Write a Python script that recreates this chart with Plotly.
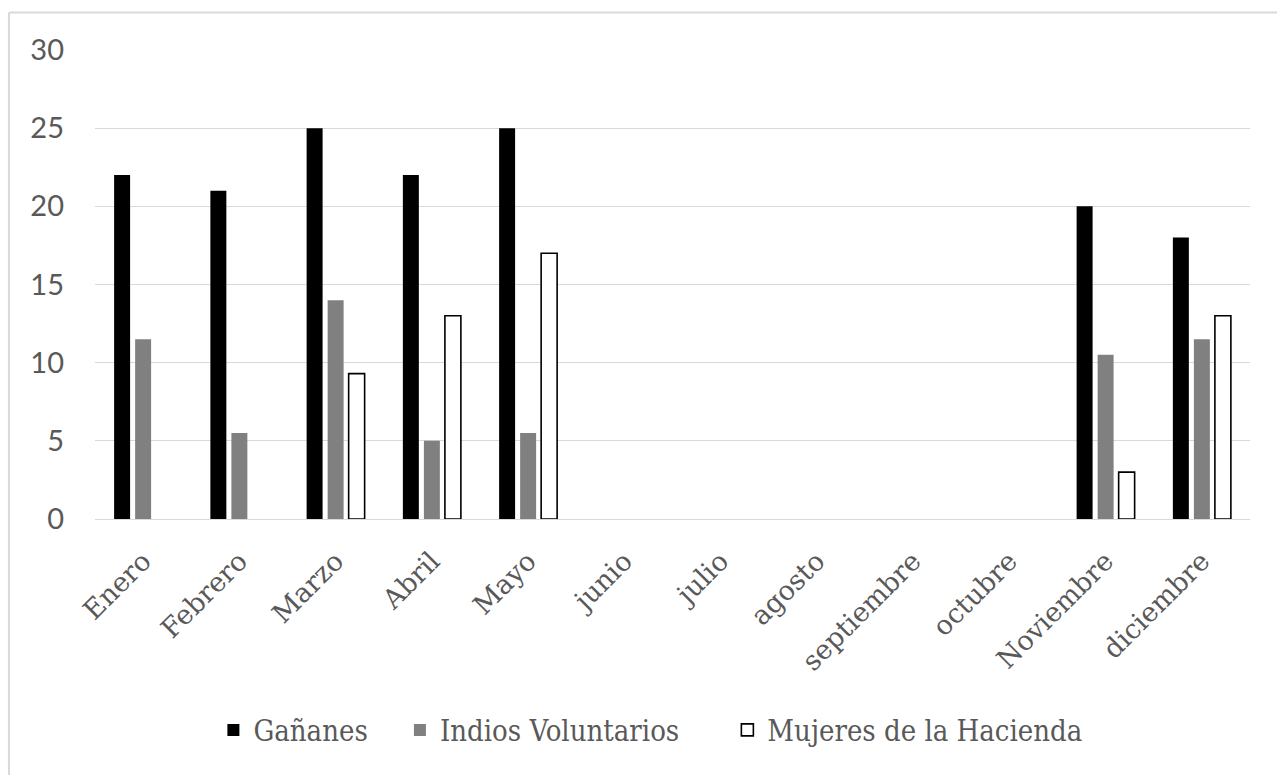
import plotly.graph_objects as go

months = ["Enero", "Febrero", "Marzo", "Abril", "Mayo", "junio", "julio",
          "agosto", "septiembre", "octubre", "Noviembre", "diciembre"]
ganyanes = [22, 21, 25, 22, 25, None, None, None, None, None, 20, 18]
indios = [11.5, 5.5, 14, 5, 5.5, None, None, None, None, None, 10.5, 11.5]
mujeres = [None, None, 9.3, 13, 17, None, None, None, None, None, 3, 13]
y_ticks = [0, 5, 10, 15, 20, 25, 30]

fig = go.Figure()
fig.add_trace(go.Bar(name="Gañanes", x=months, y=ganyanes, legend="legend",
                     marker=dict(color="#000000", line=dict(width=0))))
fig.add_trace(go.Bar(name="Indios Voluntarios", x=months, y=indios, legend="legend2",
                     marker=dict(color="#808080", line=dict(width=0))))
fig.add_trace(go.Bar(name="Mujeres de la Hacienda", x=months, y=mujeres, legend="legend3",
                     marker=dict(color="#ffffff", line=dict(color="#000000", width=1.6))))

legend_font = dict(family="DejaVu Serif Condensed", size=29, color="#595959")


def legend_box(x):
    return dict(orientation="h", x=x, xanchor="left", y=-0.45, yanchor="middle",
                font=legend_font, itemwidth=30, bgcolor="rgba(0,0,0,0)")


fig.update_layout(
    width=1277, height=775,
    margin=dict(l=95, r=27, t=50, b=256),
    paper_bgcolor="#ffffff", plot_bgcolor="#ffffff",
    barmode="group", bargap=0.345, bargroupgap=0.24,
    showlegend=True,
    legend=legend_box(0.1025),
    legend2=legend_box(0.2640),
    legend3=legend_box(0.5475),
    xaxis=dict(tickangle=-45, tickfont=dict(family="DejaVu Serif", size=27, color="#595959"),
               showgrid=False, showline=False, ticks="", ticklabelstandoff=20),
    yaxis=dict(range=[0, 30], tickvals=y_ticks, showgrid=True, gridcolor="#d9d9d9",
               gridwidth=1, zeroline=True, zerolinecolor="#d9d9d9", zerolinewidth=1,
               tickfont=dict(family="Lato", size=29, color="#595959"),
               ticklabelstandoff=30, showline=False, ticks=""),
    shapes=[
        dict(type="line", xref="paper", yref="paper", x0=-0.0745, x1=-0.0745, y0=-0.65, y1=1.08,
             line=dict(color="#d9d9d9", width=2)),
        dict(type="line", xref="paper", yref="paper", x0=-0.0745, x1=1.03, y0=1.08, y1=1.08,
             line=dict(color="#d9d9d9", width=2)),
    ],
)

fig.write_html("out.html")
